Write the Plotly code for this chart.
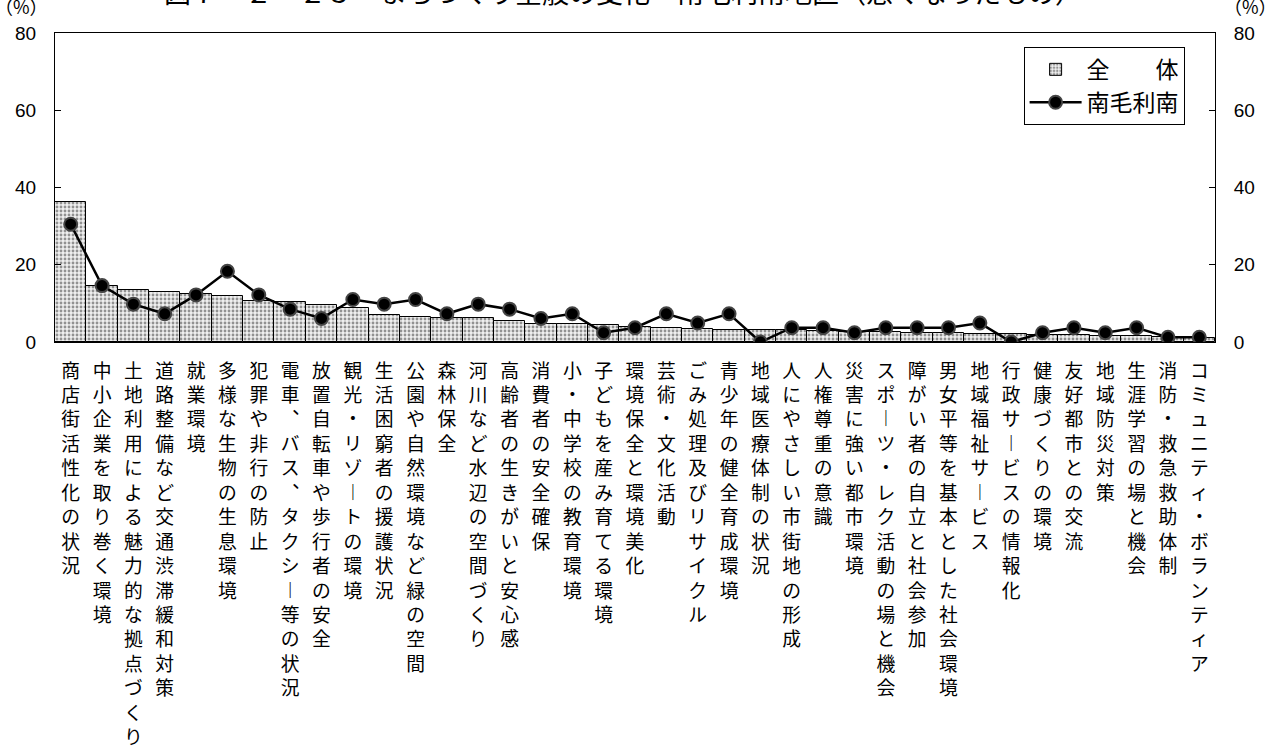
import plotly.graph_objects as go

# Items rated as having become worse (percent of respondents)
categories = [
    "商店街活性化の状況", "中小企業を取り巻く環境", "土地利用による魅力的な拠点づくり",
    "道路整備など交通渋滞緩和対策", "就業環境", "多様な生物の生息環境", "犯罪や非行の防止",
    "電車、バス、タクシー等の状況", "放置自転車や歩行者の安全", "観光・リゾートの環境",
    "生活困窮者の援護状況", "公園や自然環境など緑の空間", "森林保全", "河川など水辺の空間づくり",
    "高齢者の生きがいと安心感", "消費者の安全確保", "小・中学校の教育環境", "子どもを産み育てる環境",
    "環境保全と環境美化", "芸術・文化活動", "ごみ処理及びリサイクル", "青少年の健全育成環境",
    "地域医療体制の状況", "人にやさしい市街地の形成", "人権尊重の意識", "災害に強い都市環境",
    "スポーツ・レク活動の場と機会", "障がい者の自立と社会参加", "男女平等を基本とした社会環境",
    "地域福祉サービス", "行政サービスの情報化", "健康づくりの環境", "友好都市との交流",
    "地域防災対策", "生涯学習の場と機会", "消防・救急救助体制", "コミュニティ・ボランティア",
]

# 全体 (whole city)
overall = [
    36.2, 14.5, 13.5, 13.0, 12.5, 11.8, 10.5, 10.4, 9.7, 8.7,
    7.0, 6.6, 6.3, 6.1, 5.5, 4.6, 4.6, 4.3, 4.0, 3.5,
    3.3, 3.2, 3.1, 3.0, 2.9, 2.7, 2.6, 2.4, 2.3, 2.2,
    2.0, 1.9, 1.8, 1.6, 1.5, 1.3, 1.1,
]

# 南毛利南 (district)
district = [
    30.5, 14.6, 9.8, 7.3, 12.2, 18.3, 12.2, 8.5, 6.1, 11.0,
    9.8, 11.0, 7.3, 9.8, 8.5, 6.1, 7.3, 2.4, 3.7, 7.3,
    4.9, 7.3, 0.0, 3.7, 3.7, 2.4, 3.7, 3.7, 3.7, 4.9,
    0.0, 2.4, 3.7, 2.4, 3.7, 1.2, 1.2,
]

y_ticks = [0, 20, 40, 60, 80]

JP = "Noto Sans CJK JP"
NUM = "Liberation Sans, Arial"

VERTICAL_FORMS = {"ー": "︱", "、": "︑"}


def vertical(label):
    return "<br>".join(VERTICAL_FORMS.get(ch, ch) for ch in label)


fig = go.Figure()

fig.add_trace(go.Bar(
    x=categories,
    y=overall,
    name="全　　体",
    marker=dict(
        color="white",
        line=dict(color="black", width=1),
        pattern=dict(shape=".", fgcolor="#333333", bgcolor="#efefef",
                     size=4, solidity=0.4),
    ),
))

fig.add_trace(go.Scatter(
    x=categories,
    y=district,
    name="南毛利南",
    mode="lines+markers",
    line=dict(color="black", width=2.5),
    marker=dict(size=13, color="black", line=dict(color="#444444", width=2)),
))

# Right-hand axis mirrors the left one
fig.add_trace(go.Scatter(
    x=categories, y=overall, yaxis="y2", mode="none",
    showlegend=False, hoverinfo="skip",
))

fig.update_layout(
    width=1268,
    height=749,
    margin=dict(l=55, r=53, t=33, b=407, autoexpand=False),
    paper_bgcolor="white",
    plot_bgcolor="white",
    bargap=0,
    font=dict(family=JP, color="black"),
    showlegend=True,
    legend=dict(
        x=0.835, y=0.955, xanchor="left", yanchor="top",
        bordercolor="black", borderwidth=1, bgcolor="white",
        font=dict(family=JP, size=23, color="black"),
        itemwidth=52,
        tracegroupgap=0,
    ),
    xaxis=dict(
        type="category",
        range=[-0.5, len(categories) - 0.5],
        tickmode="array",
        tickvals=categories,
        ticktext=[vertical(c) for c in categories],
        tickfont=dict(family=JP, size=18.8, color="black"),
        tickangle=0,
        ticks="",
        ticklabelstandoff=12,
        showline=True, linecolor="black", linewidth=1, mirror=True,
        showgrid=False, zeroline=False, automargin=False,
    ),
    yaxis=dict(
        range=[0, 80],
        tickmode="array",
        tickvals=y_ticks,
        ticks="inside", ticklen=6, tickcolor="black",
        tickfont=dict(family=NUM, size=19, color="black"),
        ticklabelstandoff=14,
        showline=True, linecolor="black", linewidth=1,
        showgrid=False, zeroline=False, automargin=False,
    ),
    yaxis2=dict(
        range=[0, 80],
        overlaying="y",
        side="right",
        tickmode="array",
        tickvals=y_ticks,
        ticks="inside", ticklen=6, tickcolor="black",
        tickfont=dict(family=NUM, size=19, color="black"),
        ticklabelstandoff=14,
        showline=True, linecolor="black", linewidth=1,
        showgrid=False, zeroline=False, automargin=False,
    ),
    annotations=[
        dict(
            text="図７－２－２５　まちづくり全般の変化－南毛利南地区（悪くなったもの）",
            xref="paper", yref="paper", x=0.49, y=1.066,
            xanchor="center", yanchor="bottom", showarrow=False,
            font=dict(family=JP, size=27, color="black"),
        ),
        dict(
            text="（%）", xref="paper", yref="paper",
            x=-0.029, y=1.087, xanchor="center", yanchor="middle",
            showarrow=False, font=dict(family=JP, size=18, color="black"),
        ),
        dict(
            text="（%）", xref="paper", yref="paper",
            x=1.031, y=1.087, xanchor="center", yanchor="middle",
            showarrow=False, font=dict(family=JP, size=18, color="black"),
        ),
    ],
)

fig.write_html("out.html")
